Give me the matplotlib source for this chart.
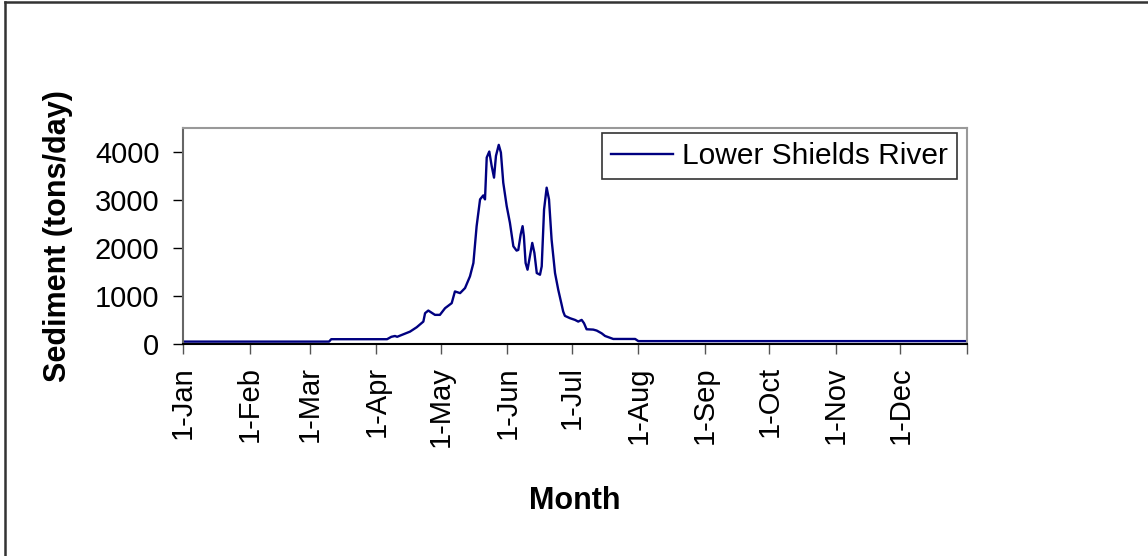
import matplotlib.pyplot as plt
from matplotlib.lines import Line2D

plt.rcParams["font.family"] = ["Liberation Sans", "DejaVu Sans"]

# day of year (0 = 1-Jan) and sediment load (tons/day)
days = [0, 68, 69, 95, 97, 98.7, 99.7, 101.8, 105.7, 108.8, 111.9, 112.7, 114.2,
        117.3, 119.6, 122, 125.1, 126.6, 129, 131.3, 133.6, 135.2, 136.7, 138.3,
        139.8, 140.6, 141.4, 142.6, 143.7, 144.8, 145.7, 147, 148, 149.1, 150.7,
        152.2, 153.8, 155.3, 156.1, 157.2, 158.1, 158.7, 159.5, 160.4, 161.5,
        162.6, 163.6, 164.7, 166.2, 167, 168.1, 169.3, 170.4, 171.6, 173.2,
        174.7, 176.3, 177, 177.8, 180.2, 182.5, 184, 185.6, 186.7, 187.9, 191,
        192.6, 194.9, 196.5, 198.8, 200.3, 210.5, 212, 365]
sediment = [50, 50, 100, 100, 150, 167, 150, 188, 258, 349, 467, 642, 697,
            607, 607, 746, 851, 1095, 1060, 1165, 1409, 1688, 2455, 3013,
            3096, 3013, 3885, 4010, 3710, 3466, 3919, 4149, 3989, 3361, 2873,
            2525, 2036, 1946, 1960, 2280, 2455, 2245, 1688, 1548, 1827,
            2106, 1897, 1478, 1443, 1617, 2803, 3257, 3013, 2176, 1478,
            1130, 816, 676, 586, 537, 502, 467, 502, 433, 307, 300,
            280, 223, 167, 130, 105, 105, 60, 60]

month_labels = ["1-Jan", "1-Feb", "1-Mar", "1-Apr", "1-May", "1-Jun",
                "1-Jul", "1-Aug", "1-Sep", "1-Oct", "1-Nov", "1-Dec", ""]
month_days = [0, 31, 59, 90, 120, 151, 181, 212, 243, 273, 304, 334, 365]

fig = plt.figure(figsize=(11.48, 5.56), dpi=100)
ax = fig.add_axes([183 / 1148, 1 - 344 / 556, 784 / 1148, 216 / 556])

ax.plot(days, sediment, color="#000080", linewidth=1.7, label="Lower Shields River")

ax.set_xlim(0, 365)
ax.set_ylim(0, 4500)
ax.set_yticks([0, 1000, 2000, 3000, 4000])
ax.set_xticks(month_days)
ax.set_xticklabels(month_labels, rotation=90)
ax.tick_params(axis="both", labelsize=21, length=7, width=1, direction="out")
ax.tick_params(axis="x", pad=9, colors="#555555", labelcolor="black")
ax.tick_params(axis="y", pad=10)

ax.spines["top"].set_color("#999999")
ax.spines["right"].set_color("#999999")
ax.spines["left"].set_color("#666666")
ax.spines["bottom"].set_color("black")
for s in ax.spines.values():
    s.set_linewidth(1.5)

ax.set_ylabel("Sediment (tons/day)", fontsize=22, fontweight="bold")
ax.yaxis.set_label_coords((73 - 183) / 784, 0.5)
ax.set_xlabel("Month", fontsize=22, fontweight="bold")
ax.xaxis.set_label_coords(0.5, (344 - 486) / 216)

leg = ax.legend(loc="upper right", fontsize=21.5, fancybox=False, framealpha=1,
                edgecolor="#333333", handlelength=2.1, handletextpad=0.3,
                borderpad=0.3, borderaxespad=0,
                bbox_to_anchor=((957 - 183) / 784, 1 - 5 / 216))
leg.get_frame().set_linewidth(1.2)

# outer chart border (top and left only visible)
fig.add_artist(Line2D([5 / 1148, 5 / 1148], [0, 1 - 1.5 / 556], transform=fig.transFigure,
                      color="#333333", linewidth=1.8))
fig.add_artist(Line2D([5 / 1148, 1], [1 - 1.5 / 556, 1 - 1.5 / 556], transform=fig.transFigure,
                      color="#333333", linewidth=1.8))

fig.savefig("out.png", dpi=100)
